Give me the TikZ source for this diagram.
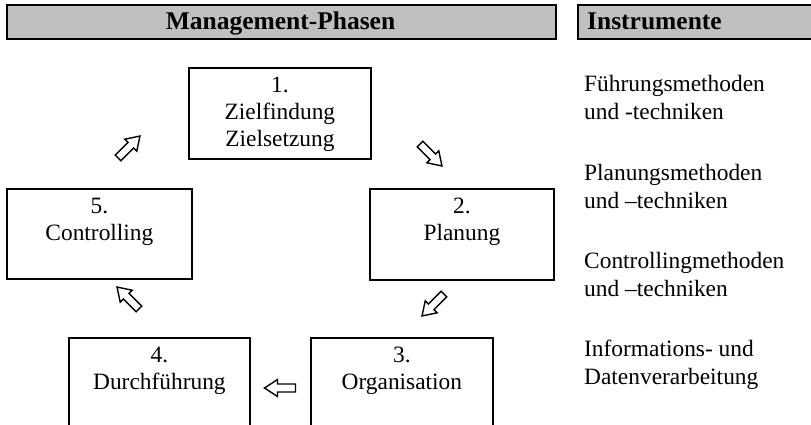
\documentclass[tikz,border=0pt]{standalone}
\usepackage{fontspec}
\setmainfont{Liberation Serif}
\definecolor{hdrgray}{HTML}{C0C0C0}
\newcommand{\phtxt}[3]{\parbox[c][#2][t]{#1}{\centering\baselineskip=27pt\rule{0pt}{25pt}#3}}
\newcommand{\insttxt}[1]{\parbox[t]{220pt}{\raggedright\baselineskip=28pt #1}}
\begin{document}
\begin{tikzpicture}[x=1pt,y=-1pt,
  hdr/.style={draw, line width=2.4pt, fill=hdrgray, inner sep=0pt, anchor=north west},
  hdrtext/.style={font=\fontsize{25.5pt}{30pt}\selectfont\bfseries, inner sep=0pt},
  phase/.style={draw, line width=1.8pt, inner sep=0pt, anchor=north west,
    font=\fontsize{23.4pt}{27pt}\selectfont},
  instr/.style={font=\fontsize{23.4pt}{28pt}\selectfont, inner sep=0pt, anchor=base west},
  barrow/.pic={\draw[line width=1.4pt, fill=white, line join=miter]
     (-15.5,-4) -- (2.5,-4) -- (2.5,-8.5) -- (15.5,0) -- (2.5,8.5) -- (2.5,4) -- (-15.5,4) -- cycle;}
]
\useasboundingbox (0,0) rectangle (811,425);

% headers
\node[hdr, minimum width=549pt, minimum height=34pt] (h1) at (6,4) {};
\node[hdr, minimum width=236pt, minimum height=34pt] (h2) at (577,4) {};
\node[hdrtext, anchor=base] (h1t) at (280.5,30) {Management-Phasen};
\node[hdrtext, anchor=base west] (h2t) at (587,30) {Instrumente};

% phase boxes
\node[phase] (b1) at (188,67) {\phtxt{182pt}{91pt}{1.\\Zielfindung\\Zielsetzung}};
\node[phase] (b2) at (369,188) {\phtxt{184pt}{91pt}{2.\\Planung}};
\node[phase] (b5) at (6,188) {\phtxt{185pt}{90pt}{5.\\Controlling}};
\node[phase] (b4) at (68,337) {\phtxt{181pt}{100pt}{4.\\Durchführung}};
\node[phase] (b3) at (310,337) {\phtxt{182pt}{100pt}{3.\\Organisation}};

% block arrows
\coordinate (a51) at (129,147);
\coordinate (a12) at (431,155);
\coordinate (a23) at (433,305);
\coordinate (a34) at (280,388);
\coordinate (a45) at (128,298);
\pic[rotate=45] at (a51) {barrow};
\pic[rotate=-45] at (a12) {barrow};
\pic[rotate=-135] at (a23) {barrow};
\pic[rotate=180] at (a34) {barrow};
\pic[rotate=135] at (a45) {barrow};

% instruments
\node[instr] (i1) at (584,92) {\insttxt{Führungsmethoden\\und -techniken}};
\node[instr] (i2) at (584,180) {\insttxt{Planungsmethoden\\und –techniken}};
\node[instr] (i3) at (584,268) {\insttxt{Controllingmethoden\\und –techniken}};
\node[instr] (i4) at (584,356) {\insttxt{Informations- und\\Datenverarbeitung}};
\end{tikzpicture}
\end{document}
